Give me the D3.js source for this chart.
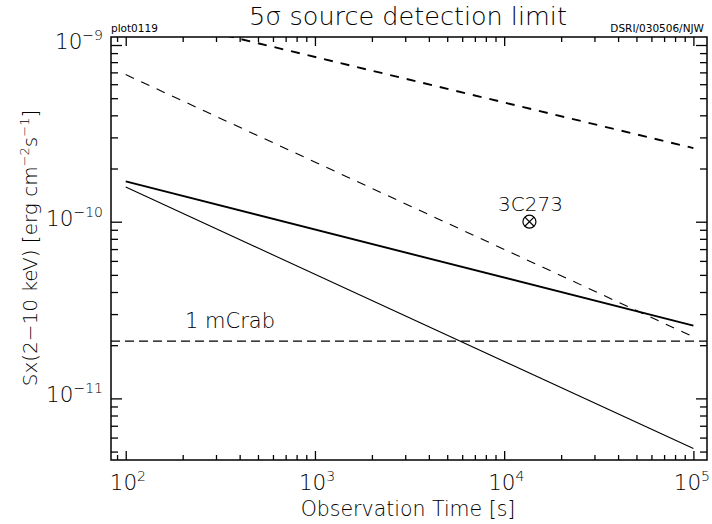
<!DOCTYPE html>
<html>
<head>
<meta charset="utf-8">
<script src="https://cdn.jsdelivr.net/npm/d3@7"></script>
<style>
  html, body { margin: 0; padding: 0; background: #fff; }
  svg { display: block; }
  text { font-family: "DejaVu Sans", sans-serif; fill: #000; }
</style>
</head>
<body>
<svg id="chart" width="712" height="524"></svg>
<script>
// Observation times at which each limit curve is evaluated [s]
const times = [100, 1e5];
// 5-sigma flux limits, 2-10 keV [erg cm^-2 s^-1]
const thickSolid  = [1.69e-10, 2.58e-11];
const thinSolid   = [1.57e-10, 5.2e-12];
const thinDashed  = [6.8e-10, 2.23e-11];
const thickDashed = [1.55e-9, 2.61e-10];
// Reference flux levels
const mCrabFlux = 2.11e-11;
const mCrabLabel = "1 mCrab";
const sourceName = "3C273";
const sourceTime = 1.36e4;
const sourceFlux = 1.0e-10;
// Tick labels (decades)
const xMajor = [1e2, 1e3, 1e4, 1e5];
const xMajorExp = ["2", "3", "4", "5"];
const yMajor = [1e-9, 1e-10, 1e-11];
const yMajorExp = ["\u22129", "\u221210", "\u221211"];

const svg = d3.select("#chart");
const W = 712;
const L = 111, R = 707, T = 37, B = 460;

const x = d3.scaleLog().domain([83.6, 1.18e5]).range([L, R]);
const y = d3.scaleLog().domain([4.48e-12, 1.11e-9]).range([B, T]);

svg.append("defs").append("clipPath").attr("id", "plotClip")
  .append("rect").attr("x", L).attr("y", T).attr("width", R - L).attr("height", B - T);

// ---- axes: ticks point inward on all four sides ----
const xTicks = x.ticks();
const yTicks = y.ticks();
const isDecade = v => Math.abs(Math.log10(v) - Math.round(Math.log10(v))) < 1e-6;

function styleAxis(g) {
  g.select(".domain").remove();
  g.selectAll("line").attr("stroke", "#000").attr("stroke-width", 1.3);
  g.selectAll("text").remove();
}

const xMajTick = 9, xMinTick = 5, yMajTick = 11, yMinTick = 7;

svg.append("g").attr("transform", `translate(0,${B})`)
  .call(d3.axisBottom(x).tickValues(xTicks).tickSize(0))
  .call(styleAxis)
  .selectAll(".tick line").attr("y2", d => isDecade(d) ? -xMajTick : -xMinTick);
svg.append("g").attr("transform", `translate(0,${T})`)
  .call(d3.axisTop(x).tickValues(xTicks).tickSize(0))
  .call(styleAxis)
  .selectAll(".tick line").attr("y2", d => isDecade(d) ? xMajTick : xMinTick);
svg.append("g").attr("transform", `translate(${L},0)`)
  .call(d3.axisLeft(y).tickValues(yTicks).tickSize(0))
  .call(styleAxis)
  .selectAll(".tick line").attr("x2", d => isDecade(d) ? yMajTick : yMinTick);
svg.append("g").attr("transform", `translate(${R},0)`)
  .call(d3.axisRight(y).tickValues(yTicks).tickSize(0))
  .call(styleAxis)
  .selectAll(".tick line").attr("x2", d => isDecade(d) ? -yMajTick : -yMinTick);

svg.append("rect").attr("x", L).attr("y", T).attr("width", R - L).attr("height", B - T)
  .attr("fill", "none").attr("stroke", "#000").attr("stroke-width", 1.5);

// ---- tick labels with superscript exponents ----
const labFont = 21.5, supFont = 14;
xMajor.forEach((v, i) => {
  const t = svg.append("text").attr("x", x(v) - 16).attr("y", 490)
    .attr("font-size", labFont).attr("font-weight", 200);
  t.append("tspan").text("10");
  t.append("tspan").attr("font-size", supFont).attr("dy", -9).text(xMajorExp[i]);
  // keep the rightmost label inside the page
  const w = t.node().getComputedTextLength();
  const x0 = x(v) - 16;
  if (x0 + w > W - 2) t.attr("x", W - 2 - w);
});
yMajor.forEach((v, i) => {
  const t = svg.append("text").attr("x", 103).attr("y", y(v) + 4)
    .attr("text-anchor", "end").attr("font-size", labFont).attr("font-weight", 200);
  t.append("tspan").text("10");
  t.append("tspan").attr("font-size", supFont).attr("dy", -9).text(yMajorExp[i]);
});

// ---- titles ----
svg.append("text").attr("x", 408).attr("y", 25).attr("text-anchor", "middle")
  .attr("font-size", 25.5).attr("font-weight", 200).text("5\u03c3 source detection limit");
svg.append("text").attr("x", 111).attr("y", 32).attr("font-size", 10.5).text("plot0119");
svg.append("text").attr("x", 704).attr("y", 32).attr("text-anchor", "end")
  .attr("font-size", 10.5).text("DSRI/030506/NJW");

svg.append("text").attr("x", 408).attr("y", 516).attr("text-anchor", "middle")
  .attr("font-size", 20.5).attr("font-weight", 200).text("Observation Time [s]");

const yl = svg.append("text").attr("transform", "translate(37,248) rotate(-90)")
  .attr("text-anchor", "middle").attr("font-size", 20).attr("font-weight", 200);
yl.append("tspan").text("Sx(2\u221210 keV) [erg cm");
yl.append("tspan").attr("font-size", 13).attr("dy", -8).text("\u22122");
yl.append("tspan").attr("dy", 8).text("s");
yl.append("tspan").attr("font-size", 13).attr("dy", -8).text("\u22121");
yl.append("tspan").attr("dy", 8).text("]");

// ---- limit curves ----
const line = d3.line().x(d => x(d[0])).y(d => y(d[1]));
const plot = svg.append("g").attr("clip-path", "url(#plotClip)");
const curves = [
  { v: thickSolid,  w: 1.9, dash: null },
  { v: thinSolid,   w: 1.1, dash: null },
  { v: thinDashed,  w: 1.1, dash: "9,8" },
  { v: thickDashed, w: 1.9, dash: "9,8" }
];
curves.forEach(c => {
  plot.append("path").datum(times.map((t, i) => [t, c.v[i]]))
    .attr("d", line).attr("fill", "none").attr("stroke", "#000")
    .attr("stroke-width", c.w).attr("stroke-dasharray", c.dash);
});

// 1 mCrab level across the full time range
plot.append("path").datum(x.domain().map(t => [t, mCrabFlux]))
  .attr("d", line).attr("fill", "none").attr("stroke", "#000")
  .attr("stroke-width", 1.3).attr("stroke-dasharray", "9,5");
svg.append("text").attr("x", 185).attr("y", y(mCrabFlux) - 13)
  .attr("font-size", 21).attr("font-weight", 200).text(mCrabLabel);

// 3C273 marker: circle with a cross
const sx = x(sourceTime), sy = y(sourceFlux), r = 6.5;
const m = svg.append("g").attr("stroke", "#000").attr("stroke-width", 1.2).attr("fill", "none");
m.append("circle").attr("cx", sx).attr("cy", sy).attr("r", r);
const k = r * Math.SQRT1_2;
m.append("line").attr("x1", sx - k).attr("y1", sy - k).attr("x2", sx + k).attr("y2", sy + k);
m.append("line").attr("x1", sx - k).attr("y1", sy + k).attr("x2", sx + k).attr("y2", sy - k);
svg.append("text").attr("x", sx + 1).attr("y", sy - 11).attr("text-anchor", "middle")
  .attr("font-size", 20).attr("font-weight", 200).text(sourceName);
</script>
</body>
</html>
